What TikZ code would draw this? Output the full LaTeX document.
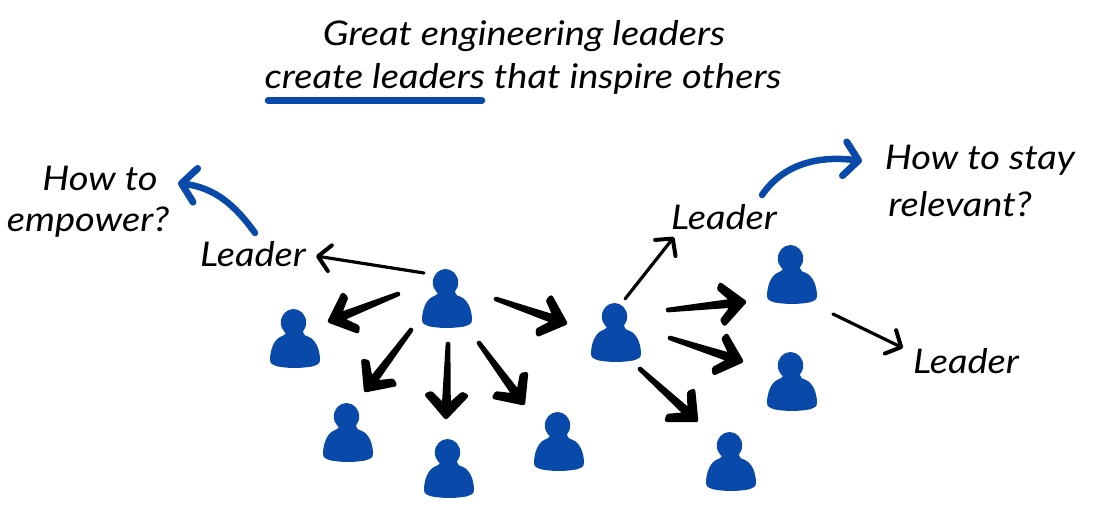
\documentclass[tikz,border=0pt]{standalone}
\usepackage{fontspec}
\setmainfont{Lato}[ItalicFeatures={FakeStretch=1.12}]
\usetikzlibrary{arrows.meta, calc}
\definecolor{leadcol}{RGB}{9, 73, 170}
\tikzset{
  hand/.style   = {font=\itshape\fontsize{34}{40}\selectfont, inner sep=0pt, align=center},
  person/.style = {minimum width=54pt, minimum height=62pt, inner sep=0pt,
                   path picture={
                     \fill[leadcol, shift={(path picture bounding box.center)}]
                       (-1.5,-15.5) ellipse (12.7 and 13.5);
                     \fill[leadcol, shift={(path picture bounding box.center)}]
                       (-9,-9) -- (-9,-6) .. controls (-9,-3) and (-13,-2) .. (-15,-1)
                       .. controls (-21,2) and (-25,12) .. (-25,22)
                       .. controls (-25,26) and (-22,27) .. (-17,28.5)
                       .. controls (-5,30.5) and (5,30.5) .. (17,28.5)
                       .. controls (22,27) and (25,26) .. (25,22)
                       .. controls (25,12) and (21,2) .. (14,-1)
                       .. controls (11,-2) and (8,-3) .. (8,-6) -- (8,-9) -- cycle;
                   }},
  % shaft gets wider towards the tip, barbs are part of the same outline
  heavy/.style  = {draw=black, fill=black, line width=4.5pt, line join=round,
                   to path={
                     ($(\tikztostart)!0.1pt!90:(\tikztotarget)$)
                     -- ($(\tikztotarget)!11pt!-12:(\tikztostart)$)
                     -- ($(\tikztotarget)!28pt!-34:(\tikztostart)$)
                     -- ($(\tikztotarget)!29pt!-42:(\tikztostart)$)
                     -- (\tikztotarget)
                     -- ($(\tikztotarget)!29pt!42:(\tikztostart)$)
                     -- ($(\tikztotarget)!28pt!34:(\tikztostart)$)
                     -- ($(\tikztotarget)!11pt!12:(\tikztostart)$)
                     -- ($(\tikztostart)!0.1pt!-90:(\tikztotarget)$) -- cycle}},
  thin/.style   = {draw=black, line width=3.2pt, line cap=round,
                   -{Straight Barb[length=12pt, width=26pt, line width=4pt, round]}},
  curved/.style = {draw=leadcol, line width=6.5pt, line cap=round,
                   -{Straight Barb[length=14pt, width=34pt, line width=7pt, round]}},
}
\begin{document}
\begin{tikzpicture}[x=1pt, y=-1pt]
  \useasboundingbox (0,0) rectangle (1100,526);

  %% ---------------- title ----------------
  \node[hand] (title) at (524,36) {Great engineering leaders};
  \node[hand] (subtitle) at (523,79) {create leaders that inspire others};
  \draw[leadcol, line width=6.5pt, line cap=round]
    ([shift={(-255,21.5)}]subtitle.center) -- ([shift={(-41,21.5)}]subtitle.center);

  %% ---------------- people ----------------
  \node[person] (lead) at (447,298) {};
  \node[person] (left) at (295,338) {};
  \node[person] (lowa) at (348,432) {};
  \node[person] (lowb) at (449,468) {};
  \node[person] (lowc) at (559,441) {};
  \node[person] (next) at (616,332) {};
  \node[person] (upper) at (792,274) {};
  \node[person] (middle) at (792,381) {};
  \node[person] (lower) at (731,461) {};

  %% ---------------- words ----------------
  \node[hand] (howto) at (100,178) {How to};
  \node[hand] (empower) at (88,222) {empower?};
  \node[hand] (leaderl) at (253,254) {Leader};
  \node[hand] (leaderm) at (724,217) {Leader};
  \node[hand] (stay) at (980,160) {How to stay};
  \node[hand] (relevant) at (960,204) {relevant?};
  \node[hand] (leaderr) at (966,361) {Leader};

  %% ---------------- first leader ----------------
  \draw[thin] ([shift={(-23,-25)}]lead.center) -- ([shift={(63,2)}]leaderl.center);
  \draw[heavy] ([shift={(-49,-4)}]lead.center) to ([shift={(35,-17)}]left.center);
  \draw[heavy] ([shift={(-36,32)}]lead.center) to ([shift={(18,-42)}]lowa.center);
  \draw[heavy] ([shift={(1,46)}]lead.center) to ([shift={(-3,-51)}]lowb.center);
  \draw[heavy] ([shift={(32,45)}]lead.center) to ([shift={(-36,-38)}]lowc.center);
  \draw[heavy] ([shift={(49,1)}]lead.center) to ([shift={(-51,-9)}]next.center);

  %% ---------------- second leader ----------------
  \draw[thin] ([shift={(9,-33)}]next.center) -- ([shift={(-50,20)}]leaderm.center);
  \draw[heavy] ([shift={(52,-22)}]next.center) to ([shift={(-48,28)}]upper.center);
  \draw[heavy] ([shift={(54,6)}]next.center) to ([shift={(-51,-20)}]middle.center);
  \draw[heavy] ([shift={(24,37)}]next.center) to ([shift={(-35,-41)}]lower.center);
  \draw[thin] ([shift={(41,40)}]upper.center) -- ([shift={(-63,-13)}]leaderr.center);

  %% ---------------- questions ----------------
  \draw[curved] ([shift={(2,-21)}]leaderl.center) .. controls ([shift={(-18,-49)}]leaderl.center)
    and ([shift={(-38,-66)}]leaderl.center) .. ([shift={(78,5)}]howto.center);
  \draw[curved] ([shift={(38,-22)}]leaderm.center) .. controls ([shift={(58,-51)}]leaderm.center)
    and ([shift={(91,-62)}]leaderm.center) .. ([shift={(-118,1)}]stay.center);
\end{tikzpicture}
\end{document}
